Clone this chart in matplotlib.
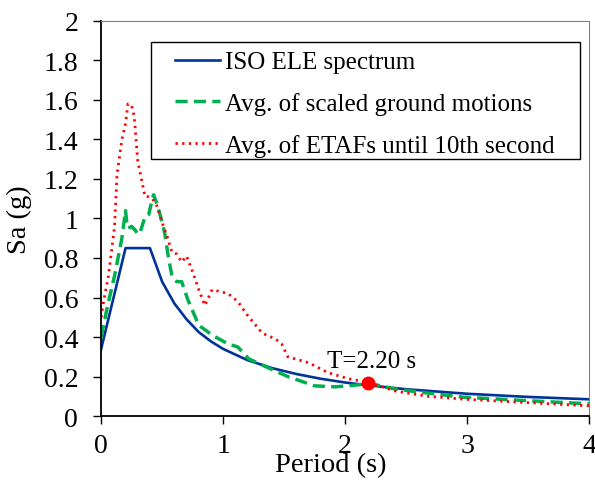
import matplotlib

matplotlib.use("Agg")
import matplotlib.pyplot as plt
from matplotlib.patches import Rectangle

# ISO ELE design spectrum
iso_T = [0, 0.2, 0.4, 0.5, 0.6, 0.7, 0.8, 0.9, 1.0, 1.2, 1.4, 1.6, 1.8, 2.0,
         2.2, 2.5, 3.0, 3.5, 4.0]
iso_sa = [0.34, 0.85, 0.85, 0.68, 0.57, 0.49, 0.425, 0.378, 0.34, 0.283, 0.243,
          0.213, 0.189, 0.17, 0.155, 0.136, 0.113, 0.097, 0.085]

# Average of scaled ground motions
gm_T = [0, 0.05, 0.11, 0.17, 0.2, 0.21, 0.22, 0.25, 0.28, 0.3, 0.32, 0.36, 0.39,
        0.42, 0.43, 0.46, 0.5, 0.52, 0.55, 0.58, 0.62, 0.66, 0.71, 0.8, 0.91,
        1.04, 1.12, 1.21, 1.35, 1.53, 1.75, 1.92, 2.14, 2.2, 2.41, 2.7, 2.96,
        3.5, 4.0]
gm_sa = [0.40, 0.55, 0.71, 0.90, 1.04, 0.98, 0.95, 0.96, 0.94, 0.92, 0.93, 1.01,
         1.02, 1.10, 1.12, 1.07, 0.98, 0.93, 0.81, 0.71, 0.68, 0.68, 0.59, 0.46,
         0.41, 0.365, 0.35, 0.29, 0.25, 0.20, 0.153, 0.148, 0.16, 0.165, 0.137,
         0.115, 0.096, 0.078, 0.062]

# Average of ETAFs until 10th second
et_T = [0, 0.02, 0.06, 0.11, 0.13, 0.17, 0.2, 0.22, 0.25, 0.27, 0.28, 0.3, 0.33,
        0.36, 0.39, 0.42, 0.46, 0.5, 0.54, 0.58, 0.62, 0.66, 0.7, 0.75, 0.8,
        0.85, 0.91, 1.04, 1.12, 1.2, 1.32, 1.43, 1.48, 1.53, 1.7, 1.86, 2.02,
        2.19, 2.41, 2.68, 2.96, 3.5, 4.0]
et_sa = [0.50, 0.58, 0.71, 0.96, 1.22, 1.40, 1.48, 1.58, 1.57, 1.52, 1.45, 1.29,
         1.20, 1.11, 1.11, 1.10, 1.06, 0.98, 0.91, 0.83, 0.82, 0.78, 0.81, 0.73,
         0.64, 0.56, 0.64, 0.62, 0.58, 0.51, 0.42, 0.39, 0.365, 0.30, 0.27,
         0.22, 0.19, 0.17, 0.127, 0.10, 0.086, 0.068, 0.052]

mark_T = 2.19
mark_sa = 0.17
mark_label = "T=2.20 s"

x_ticks = [0, 1, 2, 3, 4]
y_ticks = [0, 0.2, 0.4, 0.6, 0.8, 1, 1.2, 1.4, 1.6, 1.8, 2]
y_tick_labels = ["0", "0.2", "0.4", "0.6", "0.8", "1", "1.2", "1.4", "1.6",
                 "1.8", "2"]

plt.rcParams["font.family"] = ["Liberation Serif", "DejaVu Serif"]

W, H = 595, 485
fig = plt.figure(figsize=(W / 100, H / 100), dpi=100)
ax = fig.add_axes([0.170, 0.140, 0.820, 0.815])

ax.plot(iso_T, iso_sa, color="#003399", lw=1.9, label="ISO ELE spectrum")
ax.plot(gm_T, gm_sa, color="#00b050", lw=2.5, ls=(0, (3.5, 1.8)),
        label="Avg. of scaled ground motions")
ax.plot(et_T, et_sa, color="#ff0000", lw=2, ls=(0, (0.8, 1.6)),
        label="Avg. of ETAFs until 10th second")
ax.plot(mark_T, mark_sa, "o", color="#ff0000", ms=9, zorder=5)
ax.text(2.22, 0.248, mark_label, fontsize=18, ha="center", va="baseline")

ax.set_xlim(0, 4)
ax.set_ylim(0, 2)
ax.set_xticks(x_ticks)
ax.set_yticks(y_ticks)
ax.set_yticklabels(y_tick_labels)
ax.tick_params(labelsize=20, direction="out", length=5.5, width=1)
ax.tick_params(axis="y", pad=11)
ax.tick_params(axis="x", pad=6.5)
ax.set_xlabel("Period (s)", fontsize=20.5, va="top")
ax.xaxis.set_label_coords(0.471, -0.091)
ax.set_ylabel("Sa (g)", fontsize=20.5)
ax.yaxis.set_label_coords(-0.141, 0.5)

for side in ["left", "bottom"]:
    ax.spines[side].set_linewidth(1.3)
for side in ["top", "right"]:
    ax.spines[side].set_color("#808080")
    ax.spines[side].set_linewidth(0.8)

# legend box drawn separately so its padding can differ per side
box = Rectangle((151 / W, 1 - 160 / H), (580 - 151) / W, (160 - 43) / H,
                transform=fig.transFigure, facecolor="white",
                edgecolor="black", lw=1, zorder=4)
fig.patches.append(box)

leg = fig.legend(*ax.get_legend_handles_labels(), loc="upper left",
                 bbox_to_anchor=(175 / W, 1 - 52 / H), borderaxespad=0,
                 borderpad=0, fontsize=18, handlelength=1.8,
                 handletextpad=0.2, labelspacing=0.75, frameon=False)
leg.set_zorder(5)

fig.savefig("out.png", dpi=100)
